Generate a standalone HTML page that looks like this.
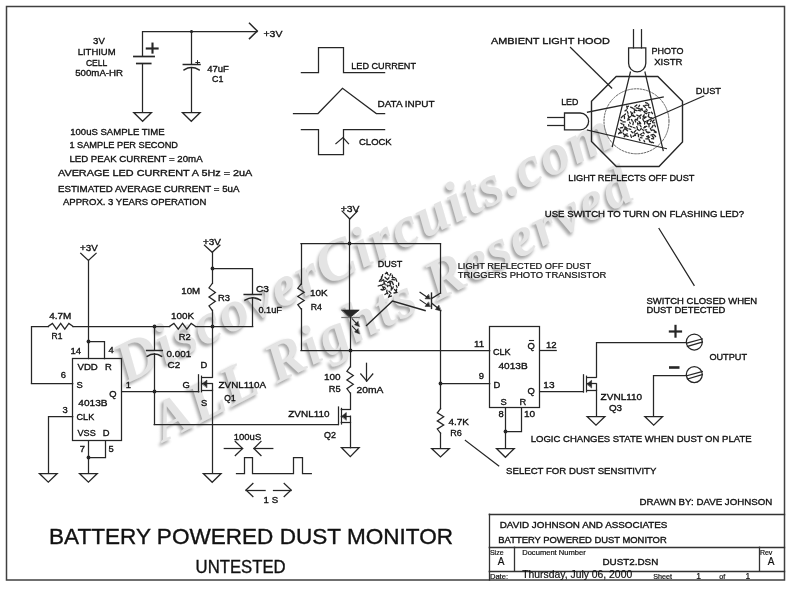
<!DOCTYPE html>
<html><head><meta charset="utf-8"><style>
html,body{margin:0;padding:0;background:#fff;}
svg{display:block;will-change:transform;}
.t{font-family:"Liberation Sans",sans-serif;fill:#111;stroke:#111;stroke-width:0.35;}
.thin{font-family:"Liberation Sans",sans-serif;fill:#111;stroke:#111;stroke-width:0.2;}
.big{font-family:"Liberation Sans",sans-serif;fill:#111;stroke:#111;stroke-width:0.35;}
</style></head><body>
<svg width="792" height="589" viewBox="0 0 792 589">
<rect width="792" height="589" fill="#fff"/>
<defs><filter id="wmb" x="-5%" y="-20%" width="110%" height="140%"><feGaussianBlur stdDeviation="1.6"/></filter></defs><g><g transform="translate(126,384) rotate(-26.0)"><text x="-3" y="1.8" font-family="Liberation Serif" font-weight="bold" font-style="italic" font-size="58" textLength="546" lengthAdjust="spacing" fill="#a6a6a6" stroke="#a6a6a6" stroke-width="0" filter="url(#wmb)">DiscoverCircuits.com</text><text x="0" y="0" font-family="Liberation Serif" font-weight="bold" font-style="italic" font-size="58" textLength="546" lengthAdjust="spacing" fill="#e4e4e4" stroke="#e4e4e4" stroke-width="0">DiscoverCircuits.com</text></g><g transform="translate(164,442) rotate(-27.3)"><text x="-3" y="1.8" font-family="Liberation Serif" font-weight="bold" font-style="italic" font-size="56" textLength="532" lengthAdjust="spacing" fill="#a6a6a6" stroke="#a6a6a6" stroke-width="0" filter="url(#wmb)">ALL Rights Reserved</text><text x="0" y="0" font-family="Liberation Serif" font-weight="bold" font-style="italic" font-size="56" textLength="532" lengthAdjust="spacing" fill="#e4e4e4" stroke="#e4e4e4" stroke-width="0">ALL Rights Reserved</text></g></g>
<g stroke="#262626" stroke-width="1.25" fill="none" stroke-linecap="square">
<rect x="6.5" y="6.5" width="778" height="573.5" fill="none" stroke="#404040" stroke-width="1.5"/>
<polyline points="142.5,56.2 142.5,31.5 257,31.5" fill="none" />
<polyline points="249.5,23.3 257.3,31 249.5,38.6" fill="none" stroke-width="1.5" />
<circle cx="191.5" cy="31.5" r="1.6" fill="#262626" stroke="none"/>
<line x1="133.9" y1="56.5" x2="154.1" y2="56.5" stroke-width="1.7"/>
<line x1="136.8" y1="63.5" x2="150.7" y2="63.5" stroke-width="1.7"/>
<line x1="142.5" y1="63.9" x2="142.5" y2="112.3"/>
<polygon points="133.7,112.5 151.5,112.5 142.6,121.3" fill="none" />
<line x1="146.8" y1="48.5" x2="157.6" y2="48.5" stroke-width="2.1"/>
<line x1="152.5" y1="43.6" x2="152.5" y2="52.6" stroke-width="2.1"/>
<line x1="191.5" y1="31" x2="191.5" y2="64.2"/>
<line x1="183.3" y1="64.5" x2="200" y2="64.5" stroke-width="1.5"/>
<path d="M184.1,69.9 Q191.3,65.3 199.1,69.9" fill="none" stroke-width="1.5" />
<line x1="191.5" y1="67.6" x2="191.5" y2="112.3"/>
<polygon points="182.4,112.5 200.20000000000002,112.5 191.3,121.3" fill="none" />
<line x1="195.8" y1="62.5" x2="199.6" y2="62.5" stroke-width="1"/>
<line x1="197.5" y1="60.6" x2="197.5" y2="64.4" stroke-width="1"/>
<polyline points="301.4,72.5 318.5,72.5 318.5,47.5 343.5,47.5 343.5,72.5 384.6,72.5" fill="none" />
<polyline points="293.5,113.5 318,113.5 342.5,88.3 376.3,113.5 384.6,113.5" fill="none" />
<polyline points="301.4,129.5 318.5,129.5 318.5,154.5 343.5,154.5 343.5,129.5 384.6,129.5" fill="none" />
<polyline points="335.9,143.6 343,137.5 348.5,143.6" fill="none" />
<polyline points="80.7,253.3 88.4,260.4 96.10000000000001,253.3" fill="none" />
<line x1="88.5" y1="260.4" x2="88.5" y2="358.6"/>
<circle cx="88.5" cy="341.5" r="1.9" fill="#262626" stroke="none"/>
<polyline points="88.4,341.5 104.5,341.5 104.5,358.6" fill="none" />
<rect x="72.5" y="358.5" width="49" height="82" fill="none"/>
<polyline points="31.5,383.4 31.5,326.5 48.3,326.5" fill="none" />
<polyline points="48.3,326.3 52.42,323.4 56.53,329.2 60.65,323.4 64.77,329.2 68.88,323.4 73,326.3" fill="none" />
<line x1="73" y1="326.5" x2="169.6" y2="326.5"/>
<circle cx="154.5" cy="326.5" r="1.9" fill="#262626" stroke="none"/>
<polyline points="169.6,326.3 173.92,323.4 178.23,329.2 182.55,323.4 186.87,329.2 191.18,323.4 195.5,326.3" fill="none" />
<line x1="195.5" y1="326.5" x2="252.7" y2="326.5"/>
<circle cx="212.5" cy="326.5" r="1.9" fill="#262626" stroke="none"/>
<line x1="31.5" y1="383.5" x2="72.7" y2="383.5"/>
<polyline points="72.7,416.5 48.5,416.5 48.5,473.1" fill="none" />
<polygon points="39.4,473.5 57.199999999999996,473.5 48.3,482.1" fill="none" />
<line x1="88.5" y1="440.7" x2="88.5" y2="473.1"/>
<polygon points="79.5,473.5 97.30000000000001,473.5 88.4,482.1" fill="none" />
<polyline points="105.5,440.7 105.5,457.5 88.4,457.5" fill="none" />
<circle cx="88.5" cy="457.5" r="1.9" fill="#262626" stroke="none"/>
<line x1="121.6" y1="391.5" x2="198.8" y2="391.5"/>
<circle cx="154.5" cy="391.5" r="1.9" fill="#262626" stroke="none"/>
<line x1="154.5" y1="326.3" x2="154.5" y2="350.3"/>
<line x1="146.6" y1="350.5" x2="162.3" y2="350.5" stroke-width="1.5"/>
<path d="M147.2,356.3 Q154.2,351.6 161.6,356.3" fill="none" stroke-width="1.5" />
<line x1="154.5" y1="353.8" x2="154.5" y2="424.5"/>
<line x1="154.2" y1="424.5" x2="338.4" y2="424.5"/>
<polyline points="204.5,245.2 212.2,252.3 219.89999999999998,245.2" fill="none" />
<line x1="212.5" y1="252.3" x2="212.5" y2="283.5"/>
<circle cx="212.5" cy="268.5" r="1.9" fill="#262626" stroke="none"/>
<polyline points="212.2,283.5 209.0,287.97 215.4,292.43 209.0,296.9 215.4,301.37 209.0,305.83 212.2,310.3" fill="none" />
<line x1="212.5" y1="310.3" x2="212.5" y2="377.2"/>
<polyline points="212.2,268.5 252.5,268.5 252.5,294" fill="none" />
<line x1="244.2" y1="294.5" x2="261.2" y2="294.5" stroke-width="1.5"/>
<path d="M245,300.2 Q252.7,295.4 260.5,300.2" fill="none" stroke-width="1.5" />
<line x1="252.5" y1="297.8" x2="252.5" y2="326.3"/>
<line x1="198.5" y1="374.8" x2="198.5" y2="391.8"/>
<line x1="201.5" y1="376.2" x2="201.5" y2="391.8" stroke-width="1.2"/>
<line x1="201.9" y1="377.5" x2="212.2" y2="377.5"/>
<line x1="201.9" y1="383.5" x2="212.2" y2="383.5"/>
<line x1="201.9" y1="390.5" x2="212.2" y2="390.5"/>
<line x1="212.5" y1="383.7" x2="212.5" y2="390.3"/>
<polygon points="202.5,383.7 206.9,380.09999999999997 206.9,387.3" fill="#262626" stroke-width="0.6" />
<line x1="212.5" y1="390.3" x2="212.5" y2="473.3"/>
<polygon points="203.29999999999998,473.5 221.1,473.5 212.2,482.3" fill="none" />
<line x1="224.3" y1="448.5" x2="242.6" y2="448.5"/>
<polyline points="235.3,441.4 242.6,448.5 235.3,455.6" fill="none" />
<line x1="272.8" y1="448.5" x2="253.9" y2="448.5"/>
<polyline points="261,441.4 253.9,448.5 261,455.6" fill="none" />
<polyline points="236.5,473.5 244.5,473.5 244.5,457.5 252.5,457.5 252.5,473.5 293.5,473.5 293.5,457.5 302.5,457.5 302.5,473.5 311.3,473.5" fill="none" />
<line x1="246" y1="490.5" x2="265.1" y2="490.5"/>
<polyline points="252.9,483.5 246,490 252.9,496.5" fill="none" />
<line x1="273.5" y1="490.5" x2="291.1" y2="490.5"/>
<polyline points="284.2,483.5 291.1,490 284.2,496.5" fill="none" />
<polyline points="342.1,211.1 349.8,219 357.5,211.1" fill="none" />
<line x1="349.5" y1="219" x2="349.5" y2="310.1"/>
<circle cx="349.5" cy="243.5" r="1.9" fill="#262626" stroke="none"/>
<line x1="301" y1="243.5" x2="440.5" y2="243.5"/>
<line x1="301.5" y1="243.9" x2="301.5" y2="284.1"/>
<polyline points="301,284.1 297.8,288.22 304.2,292.33 297.8,296.45 304.2,300.57 297.8,304.68 301,308.8" fill="none" />
<line x1="301.5" y1="308.8" x2="301.5" y2="350.2"/>
<line x1="301" y1="350.5" x2="489.7" y2="350.5"/>
<circle cx="350.5" cy="350.5" r="1.9" fill="#262626" stroke="none"/>
<polygon points="341.9,310.1 359.2,310.1 350.1,317.4" fill="#262626" stroke-width="0.8" />
<line x1="341.9" y1="317.5" x2="359.2" y2="317.5" stroke-width="1.2" stroke="#777"/>
<line x1="350.5" y1="317.4" x2="350.5" y2="366.9"/>
<line x1="352.2" y1="318.8" x2="357.2" y2="324.2" stroke-width="1.1"/>
<polygon points="359.3,326.6 354.6,324.8 357.8,321.6" fill="#262626" stroke-width="0.5" />
<line x1="352.2" y1="326.0" x2="357.2" y2="331.4" stroke-width="1.1"/>
<polygon points="359.3,333.8 354.6,332.0 357.8,328.8" fill="#262626" stroke-width="0.5" />
<polyline points="366.5,325.4 392.5,301.1 425.1,310.6" fill="none" stroke-width="1.4" />
<line x1="431.5" y1="293.1" x2="431.5" y2="308.4" stroke-width="1.4"/>
<line x1="440.5" y1="243.9" x2="440.5" y2="293"/>
<polyline points="431.9,298.3 440.5,293" fill="none" />
<polyline points="431.9,303.3 439,309" fill="none" />
<polygon points="440.9,310.9 435.4,309.5 438.6,305.4" fill="#262626" stroke-width="0.5" />
<line x1="440.5" y1="310.6" x2="440.5" y2="408.7"/>
<line x1="420" y1="292.3" x2="427.5" y2="297.5" stroke-width="1.1"/>
<polygon points="430.2,299 425.0,298.8 428.3,294.6" fill="#262626" stroke-width="0.5" />
<line x1="420" y1="299.90000000000003" x2="427.5" y2="305.1" stroke-width="1.1"/>
<polygon points="430.2,306.6 425.0,306.40000000000003 428.3,302.20000000000005" fill="#262626" stroke-width="0.5" />
<circle cx="440.5" cy="383.5" r="1.9" fill="#262626" stroke="none"/>
<line x1="440.5" y1="383.5" x2="489.7" y2="383.5"/>
<polyline points="440.5,408.7 437.3,412.77 443.7,416.83 437.3,420.9 443.7,424.97 437.3,429.03 440.5,433.1" fill="none" />
<line x1="440.5" y1="433.1" x2="440.5" y2="448"/>
<polygon points="431.6,448.5 449.4,448.5 440.5,457" fill="none" />
<polyline points="350.1,366.9 346.9,371.25 353.3,375.6 346.9,379.95 353.3,384.3 346.9,388.65 350.1,393" fill="none" />
<line x1="350.5" y1="393" x2="350.5" y2="409.4"/>
<line x1="366.5" y1="363.3" x2="366.5" y2="381.1"/>
<polyline points="360.8,374 366.8,381.1 372.8,374" fill="none" />
<line x1="338.5" y1="407.0" x2="338.5" y2="424.5"/>
<line x1="341.5" y1="408.4" x2="341.5" y2="424.0" stroke-width="1.2"/>
<line x1="341.3" y1="409.5" x2="350.3" y2="409.5"/>
<line x1="341.3" y1="416.5" x2="350.3" y2="416.5"/>
<line x1="341.3" y1="422.5" x2="350.3" y2="422.5"/>
<line x1="350.5" y1="416.2" x2="350.5" y2="422.5"/>
<polygon points="341.90000000000003,416.2 346.3,412.59999999999997 346.3,419.8" fill="#262626" stroke-width="0.6" />
<line x1="350.5" y1="422.5" x2="350.5" y2="447.7"/>
<polygon points="341.40000000000003,447.5 359.2,447.5 350.3,456.7" fill="none" />
<rect x="489.5" y="326.5" width="50" height="81" fill="none"/>
<line x1="539.6" y1="350.5" x2="556.2" y2="350.5"/>
<line x1="539.6" y1="391.5" x2="583.4" y2="391.5"/>
<line x1="505.5" y1="408.1" x2="505.5" y2="448.3"/>
<polyline points="521.5,408.1 521.5,431.5 505.4,431.5" fill="none" />
<circle cx="505.5" cy="431.5" r="1.9" fill="#262626" stroke="none"/>
<polygon points="496.5,448.5 514.3,448.5 505.4,457.3" fill="none" />
<line x1="583.5" y1="374.8" x2="583.5" y2="392"/>
<line x1="586.5" y1="376.2" x2="586.5" y2="391.8" stroke-width="1.2"/>
<line x1="586.6" y1="377.5" x2="596" y2="377.5"/>
<line x1="586.6" y1="383.5" x2="596" y2="383.5"/>
<line x1="586.6" y1="390.5" x2="596" y2="390.5"/>
<line x1="596.5" y1="383.9" x2="596.5" y2="390.3"/>
<polygon points="587.2,383.9 591.6,380.29999999999995 591.6,387.5" fill="#262626" stroke-width="0.6" />
<polyline points="596.5,377.2 596.5,342.5 686.2,342.5" fill="none" />
<line x1="596.5" y1="390.3" x2="596.5" y2="416.1"/>
<polygon points="587.1,416.5 604.9,416.5 596,425.1" fill="none" />
<polyline points="686.2,375.5 653.5,375.5 653.5,416.1" fill="none" />
<polygon points="644.8000000000001,416.5 662.6,416.5 653.7,425.1" fill="none" />
<circle cx="694.3" cy="342" r="8" fill="white"/>
<line x1="686.6" y1="343.2" x2="702.3" y2="338.9" stroke-width="1.2"/>
<line x1="687.4" y1="346.4" x2="702.4" y2="342" stroke-width="1.2"/>
<circle cx="694.3" cy="374.6" r="8" fill="white"/>
<line x1="686.6" y1="375.8" x2="702.3" y2="371.5" stroke-width="1.2"/>
<line x1="687.4" y1="379.0" x2="702.4" y2="374.6" stroke-width="1.2"/>
<line x1="669.9" y1="331.5" x2="681.0" y2="331.5" stroke-width="2.2"/>
<line x1="675.5" y1="325.9" x2="675.5" y2="336.6" stroke-width="2.2"/>
<line x1="670.3" y1="367.5" x2="678.2" y2="367.5" stroke-width="2.6"/>
<line x1="659" y1="228.5" x2="694.1" y2="285.3"/>
<line x1="465.4" y1="440.5" x2="498.7" y2="465.9"/>
<line x1="570.5" y1="47.4" x2="611.7" y2="88.1"/>
<polygon points="616.2,76.5 657.8,76.5 682.5,101.3 682.5,142 659,166.5 616.4,166.5 591.5,141.5 591.5,101.3" fill="none" stroke-width="1.4" />
<circle cx="636.5" cy="121.3" r="32.5" fill="none" stroke="#555" stroke-width="0.9" stroke-dasharray="1.6,1.6"/>
<line x1="633.5" y1="29.7" x2="633.5" y2="47.9"/>
<line x1="641.5" y1="29.7" x2="641.5" y2="47.9"/>
<path d="M628.6,47.9 L645.8,47.9 L645.8,63.3 A8.6,8.6 0 0 1 628.6,63.3 Z" fill="none" stroke-width="1.3" />
<line x1="547.7" y1="117.5" x2="564.2" y2="117.5"/>
<line x1="547.7" y1="125.5" x2="564.2" y2="125.5"/>
<path d="M564.5,113 L580.2,113 A8.4,8.4 0 0 1 580.2,129.8 L564.5,129.8 Z" fill="none" stroke-width="1.3" />
<line x1="587.5" y1="112.2" x2="663.2" y2="97.1"/>
<line x1="587.5" y1="130" x2="666.3" y2="148.6"/>
<line x1="630.4" y1="72.1" x2="612.3" y2="146.6"/>
<line x1="645" y1="72.1" x2="663.2" y2="150.6"/>
<line x1="703.7" y1="96" x2="645" y2="121.8"/>
<g stroke="#333" stroke-width="1.3">
<line x1="489.3" y1="514.5" x2="784.5" y2="514.5"/>
<line x1="489.5" y1="514.3" x2="489.5" y2="580"/>
<line x1="489.3" y1="547.5" x2="784.5" y2="547.5"/>
<line x1="489.3" y1="571.5" x2="784.5" y2="571.5"/>
<line x1="514.5" y1="547.3" x2="514.5" y2="571.2"/>
<line x1="759.5" y1="547.3" x2="759.5" y2="571.2"/>
</g>
<line x1="529.5" y1="340.5" x2="533.5" y2="340.5" stroke-width="1.1"/>
<path d="M382.7,274.6l-0.6,2.3M387.4,272.8l-2.0,0.9M386.4,272.3l1.7,2.4M390.8,273.7l-1.0,2.1M381.4,276.8l0.3,2.2M385.0,277.3l1.9,1.8M389.0,277.8l-1.5,1.7M392.2,275.2l0.7,2.8M392.0,277.4l2.7,0.3M380.8,279.1l-1.5,2.2M383.6,279.8l-2.7,1.5M383.7,280.9l2.7,0.5M389.5,281.4l-1.9,1.2M389.7,281.1l2.4,0.2M392.0,279.4l2.8,0.5M395.8,278.6l1.0,2.8M383.5,284.0l-2.5,1.6M383.9,282.1l1.3,2.7M388.5,282.2l1.8,1.1M390.8,282.6l-0.6,2.1M392.4,282.3l1.0,2.4M398.7,282.9l-0.1,2.7M380.9,285.1l-2.7,0.9M382.7,286.5l0.8,2.2M383.1,287.0l1.9,0.4M386.9,285.0l0.9,1.6M388.8,285.5l2.2,0.7M393.3,286.9l-0.7,1.9M396.3,285.5l0.8,1.8M381.0,289.5l1.9,0.5M385.6,288.7l-1.7,1.0M386.9,290.1l-0.2,2.0M391.5,287.0l-0.3,3.2M394.5,289.5l1.6,1.7M396.6,289.2l-0.3,2.9M387.3,293.0l-2.4,1.5M387.0,292.1l0.8,1.7M389.0,291.3l1.9,2.0M397.1,292.4l-3.1,0.6M389.8,294.6l-1.3,2.6M391.5,296.0l-2.8,0.8" fill="none" stroke-width="1.3" stroke-linecap="round"/>
<path d="M645.6,102.6l2.0,0.7M628.5,106.1l-1.4,0.8M636.8,105.0l-1.9,1.6M639.6,105.2l-0.8,1.4M643.4,105.8l2.0,1.6M647.4,105.2l-2.4,0.1M648.7,104.2l-0.1,1.8M626.7,106.1l0.6,2.4M630.6,107.1l2.2,1.1M633.4,108.8l1.4,0.4M636.3,107.9l2.5,0.6M639.4,108.9l2.3,0.6M642.0,108.5l0.3,1.8M646.1,109.0l1.0,1.2M648.9,107.4l1.5,0.5M626.6,109.9l-1.6,1.0M627.3,111.5l0.7,1.9M630.7,111.8l1.1,2.1M634.2,111.0l0.5,1.7M634.7,110.2l2.2,0.5M638.3,110.3l2.3,0.6M643.8,111.3l1.1,1.3M645.0,110.9l1.7,0.9M649.9,112.7l-2.0,0.2M651.5,112.1l1.0,1.5M625.5,114.0l-1.6,1.5M628.0,114.9l0.6,1.7M632.9,112.8l-1.4,1.7M633.6,115.2l-2.0,0.7M636.8,115.1l1.8,0.9M641.2,114.9l-2.0,1.4M644.2,114.8l-1.2,1.9M644.8,113.0l1.7,0.7M648.7,114.5l-0.4,2.1M622.9,116.0l-1.8,1.9M624.4,116.3l0.1,2.2M628.7,117.4l-0.6,1.3M630.4,116.5l-1.2,1.3M633.3,116.2l1.7,0.3M638.0,117.6l-0.9,1.5M640.1,116.9l0.2,1.5M645.7,116.9l-2.5,0.2M646.2,117.0l-2.2,1.4M648.4,116.4l2.0,1.6M651.0,117.6l1.8,0.9M620.4,120.0l1.6,0.8M622.9,121.9l2.3,0.0M629.7,119.6l-2.2,0.5M631.6,119.5l0.7,1.7M634.9,120.3l0.8,1.7M635.3,119.3l2.3,0.8M639.0,121.5l1.2,1.2M642.8,118.9l1.0,2.3M648.0,120.7l-1.0,2.3M651.3,120.5l-0.9,1.1M654.1,120.0l-1.5,1.5M620.9,123.3l1.4,0.8M623.7,124.4l0.0,1.7M628.7,124.7l0.2,1.5M629.6,122.2l0.7,1.3M633.4,122.2l-0.5,2.4M637.5,122.8l0.5,2.0M639.0,123.4l1.7,0.3M644.6,121.9l-0.0,2.2M646.9,122.6l1.1,1.3M650.5,123.7l-2.4,0.3M652.6,122.6l2.2,0.2M622.6,127.5l-2.2,0.4M624.8,126.9l0.3,2.0M625.4,127.1l1.9,1.7M630.4,126.3l1.6,0.7M633.6,127.5l1.4,0.5M636.8,126.6l0.6,1.6M639.9,125.0l1.1,1.6M645.5,127.2l-1.8,0.7M646.8,126.3l-2.2,0.3M649.0,124.7l0.0,2.2M653.1,125.4l-1.3,2.2M654.6,125.0l0.9,1.7M618.3,128.8l1.8,1.5M620.8,130.8l0.0,1.6M624.4,129.0l-1.3,2.2M625.6,129.2l2.0,1.6M628.9,128.9l1.8,0.4M635.9,130.4l-1.7,1.9M637.2,129.1l2.1,1.4M641.3,128.2l-0.9,1.6M642.3,129.5l1.2,0.7M646.6,129.8l-1.5,0.2M650.4,128.4l1.0,2.1M652.6,130.0l1.9,0.3M654.7,131.0l1.5,1.0M620.3,131.9l-1.7,1.8M622.0,132.7l-2.1,0.3M623.4,133.3l0.9,1.5M627.3,133.9l-2.1,0.6M631.3,131.4l1.5,1.3M634.9,133.9l0.6,1.6M637.6,133.2l-1.6,0.4M642.0,133.5l-2.0,1.2M643.1,132.2l1.0,1.5M646.3,131.6l1.9,1.3M647.8,132.1l2.1,0.2M653.4,134.3l-2.4,0.9M654.2,132.0l1.9,0.6M625.3,135.6l-1.1,1.2M625.9,135.3l2.2,1.1M630.6,134.9l0.8,2.5M634.8,135.2l-1.8,1.2M638.3,134.3l0.2,2.4M640.3,137.6l1.7,0.2M643.3,135.6l-2.1,0.2M648.5,135.8l-1.8,0.8M649.6,137.2l-1.5,0.3M652.3,136.3l1.4,1.2M654.1,135.0l1.5,1.5M639.2,139.0l0.8,1.7M644.0,140.4l0.7,1.5M645.8,138.8l2.5,0.0M649.0,139.4l0.7,2.4M651.6,138.7l2.1,0.1M649.8,141.3l1.5,1.2M652.0,142.2l1.6,0.6" fill="none" stroke-width="1.3" stroke-linecap="round"/>
</g>
<g>
<text class="t" x="263.5" y="37" font-size="9.9" textLength="18.9" lengthAdjust="spacingAndGlyphs">+3V</text>
<text class="t" x="93.1" y="44" font-size="9.9" textLength="11.7" lengthAdjust="spacingAndGlyphs">3V</text>
<text class="t" x="77.7" y="54.7" font-size="9.9" textLength="37.9" lengthAdjust="spacingAndGlyphs">LITHIUM</text>
<text class="t" x="85.9" y="65.7" font-size="9.9" textLength="21.4" lengthAdjust="spacingAndGlyphs">CELL</text>
<text class="t" x="75.2" y="76.2" font-size="9.9" textLength="47.9" lengthAdjust="spacingAndGlyphs">500mA-HR</text>
<text class="t" x="207.2" y="72.3" font-size="9.4" textLength="21.6" lengthAdjust="spacingAndGlyphs">47uF</text>
<text class="t" x="212.1" y="82.2" font-size="9.4" textLength="11.4" lengthAdjust="spacingAndGlyphs">C1</text>
<text class="t" x="70.2" y="134.7" font-size="9.9" textLength="94.4" lengthAdjust="spacingAndGlyphs">100uS SAMPLE TIME</text>
<text class="t" x="69.4" y="147.9" font-size="9.9" textLength="108.6" lengthAdjust="spacingAndGlyphs">1 SAMPLE PER SECOND</text>
<text class="t" x="69.4" y="161.8" font-size="9.9" textLength="133.2" lengthAdjust="spacingAndGlyphs">LED PEAK CURRENT = 20mA</text>
<text class="t" x="58" y="176.4" font-size="9.9" textLength="194.3" lengthAdjust="spacingAndGlyphs">AVERAGE LED CURRENT A 5Hz = 2uA</text>
<text class="t" x="58" y="192" font-size="9.9" textLength="181.4" lengthAdjust="spacingAndGlyphs">ESTIMATED AVERAGE CURRENT = 5uA</text>
<text class="t" x="63" y="204.7" font-size="9.9" textLength="143.3" lengthAdjust="spacingAndGlyphs">APPROX. 3 YEARS OPERATION</text>
<text class="t" x="351.3" y="69.2" font-size="9.9" textLength="64.7" lengthAdjust="spacingAndGlyphs">LED CURRENT</text>
<text class="t" x="377.5" y="106.6" font-size="9.9" textLength="57.0" lengthAdjust="spacingAndGlyphs">DATA INPUT</text>
<text class="t" x="359" y="145.3" font-size="9.9" textLength="32.7" lengthAdjust="spacingAndGlyphs">CLOCK</text>
<text class="t" x="491" y="44.2" font-size="9.9" textLength="118.9" lengthAdjust="spacingAndGlyphs">AMBIENT LIGHT HOOD</text>
<text class="t" x="651.6" y="53.9" font-size="9.9" textLength="31.8" lengthAdjust="spacingAndGlyphs">PHOTO</text>
<text class="t" x="654.2" y="65.1" font-size="9.9" textLength="28.3" lengthAdjust="spacingAndGlyphs">XISTR</text>
<text class="t" x="695.8" y="94.2" font-size="9.9" textLength="25.2" lengthAdjust="spacingAndGlyphs">DUST</text>
<text class="t" x="561.2" y="105.2" font-size="9.9" textLength="17.2" lengthAdjust="spacingAndGlyphs">LED</text>
<text class="t" x="568.3" y="180.9" font-size="9.9" textLength="126.2" lengthAdjust="spacingAndGlyphs">LIGHT REFLECTS OFF DUST</text>
<text class="t" x="80.1" y="250.9" font-size="9.4" textLength="17.7" lengthAdjust="spacingAndGlyphs">+3V</text>
<text class="t" x="49.2" y="319.3" font-size="9.4" textLength="22.1" lengthAdjust="spacingAndGlyphs">4.7M</text>
<text class="t" x="51.5" y="338.6" font-size="9.4" textLength="10.9" lengthAdjust="spacingAndGlyphs">R1</text>
<text class="t" x="70.4" y="353.8" font-size="9.4" textLength="10.6" lengthAdjust="spacingAndGlyphs">14</text>
<text class="t" x="108.4" y="353.4" font-size="9.4">4</text>
<text class="t" x="77.5" y="370.1" font-size="9.4" textLength="20.3" lengthAdjust="spacingAndGlyphs">VDD</text>
<text class="t" x="104.9" y="370.1" font-size="9.4">R</text>
<text class="t" x="60.7" y="377.7" font-size="9.4">6</text>
<text class="t" x="76.6" y="387.8" font-size="9.4">S</text>
<text class="t" x="125.7" y="387.8" font-size="9.4">1</text>
<text class="t" x="109.3" y="396.6" font-size="9.4">Q</text>
<text class="t" x="78.3" y="406.3" font-size="9.4" textLength="29.2" lengthAdjust="spacingAndGlyphs">4013B</text>
<text class="t" x="62.4" y="412.6" font-size="9.4">3</text>
<text class="t" x="76.6" y="420" font-size="9.4" textLength="17.6" lengthAdjust="spacingAndGlyphs">CLK</text>
<text class="t" x="77.5" y="435.6" font-size="9.4" textLength="18.2" lengthAdjust="spacingAndGlyphs">VSS</text>
<text class="t" x="102.7" y="435.6" font-size="9.4">D</text>
<text class="t" x="79.7" y="451.9" font-size="9.4">7</text>
<text class="t" x="108.4" y="451.9" font-size="9.4">5</text>
<text class="t" x="203" y="244.8" font-size="9.4" textLength="18" lengthAdjust="spacingAndGlyphs">+3V</text>
<text class="t" x="181.3" y="294.4" font-size="9.4" textLength="18.9" lengthAdjust="spacingAndGlyphs">10M</text>
<text class="t" x="218" y="301" font-size="9.4" textLength="12" lengthAdjust="spacingAndGlyphs">R3</text>
<text class="t" x="255.9" y="291.5" font-size="9.4" textLength="12.9" lengthAdjust="spacingAndGlyphs">C3</text>
<text class="t" x="258.4" y="313.3" font-size="9.4" textLength="23.6" lengthAdjust="spacingAndGlyphs">0.1uF</text>
<text class="t" x="171.1" y="318.8" font-size="9.4" textLength="23.0" lengthAdjust="spacingAndGlyphs">100K</text>
<text class="t" x="178.8" y="340.3" font-size="9.4" textLength="12.0" lengthAdjust="spacingAndGlyphs">R2</text>
<text class="t" x="166.5" y="357" font-size="9.4" textLength="24.6" lengthAdjust="spacingAndGlyphs">0.001</text>
<text class="t" x="167.5" y="367.8" font-size="9.4" textLength="12.7" lengthAdjust="spacingAndGlyphs">C2</text>
<text class="t" x="200.6" y="368.3" font-size="9.4">D</text>
<text class="t" x="182.6" y="388.2" font-size="9.4">G</text>
<text class="t" x="201" y="405.6" font-size="9.4">S</text>
<text class="t" x="218.6" y="388" font-size="9.4" textLength="47.4" lengthAdjust="spacingAndGlyphs">ZVNL110A</text>
<text class="t" x="224.3" y="400.9" font-size="9.4" textLength="11.3" lengthAdjust="spacingAndGlyphs">Q1</text>
<text class="t" x="233.8" y="439.6" font-size="9.4" textLength="27.4" lengthAdjust="spacingAndGlyphs">100uS</text>
<text class="t" x="263.6" y="503.3" font-size="9.4" textLength="14.5" lengthAdjust="spacingAndGlyphs">1 S</text>
<text class="t" x="340.7" y="212.2" font-size="9.4" textLength="18.7" lengthAdjust="spacingAndGlyphs">+3V</text>
<text class="t" x="377.7" y="266.9" font-size="9.4" textLength="24.6" lengthAdjust="spacingAndGlyphs">DUST</text>
<text class="t" x="310" y="295.9" font-size="9.4" textLength="17.6" lengthAdjust="spacingAndGlyphs">10K</text>
<text class="t" x="310.7" y="309.8" font-size="9.4" textLength="11.2" lengthAdjust="spacingAndGlyphs">R4</text>
<text class="t" x="324" y="380" font-size="9.4" textLength="16.6" lengthAdjust="spacingAndGlyphs">100</text>
<text class="t" x="328.7" y="391.8" font-size="9.4" textLength="11.9" lengthAdjust="spacingAndGlyphs">R5</text>
<text class="t" x="356.6" y="393" font-size="9.4" textLength="26.8" lengthAdjust="spacingAndGlyphs">20mA</text>
<text class="t" x="288.3" y="416.8" font-size="9.4" textLength="41.2" lengthAdjust="spacingAndGlyphs">ZVNL110</text>
<text class="t" x="324" y="437.6" font-size="9.4" textLength="11.9" lengthAdjust="spacingAndGlyphs">Q2</text>
<text class="t" x="474" y="346.5" font-size="9.4" textLength="10.2" lengthAdjust="spacingAndGlyphs">11</text>
<text class="t" x="493" y="354.7" font-size="9.4" textLength="17.7" lengthAdjust="spacingAndGlyphs">CLK</text>
<text class="t" x="527.6" y="349" font-size="9.4">Q</text>
<text class="t" x="546" y="347.5" font-size="9.4" textLength="10.6" lengthAdjust="spacingAndGlyphs">12</text>
<text class="t" x="498.5" y="369.3" font-size="9.4" textLength="29.1" lengthAdjust="spacingAndGlyphs">4013B</text>
<text class="t" x="478.7" y="378.7" font-size="9.4">9</text>
<text class="t" x="493.4" y="387.9" font-size="9.4">D</text>
<text class="t" x="527.6" y="394.4" font-size="9.4">Q</text>
<text class="t" x="543.3" y="388.3" font-size="9.4" textLength="11.2" lengthAdjust="spacingAndGlyphs">13</text>
<text class="t" x="500.5" y="404.6" font-size="9.4">S</text>
<text class="t" x="519.5" y="404.6" font-size="9.4">R</text>
<text class="t" x="498.5" y="416.8" font-size="9.4">8</text>
<text class="t" x="524" y="416.8" font-size="9.4" textLength="11.2" lengthAdjust="spacingAndGlyphs">10</text>
<text class="t" x="448.5" y="425" font-size="9.4" textLength="20.4" lengthAdjust="spacingAndGlyphs">4.7K</text>
<text class="t" x="450.2" y="436.2" font-size="9.4" textLength="11.6" lengthAdjust="spacingAndGlyphs">R6</text>
<text class="t" x="600.6" y="400.3" font-size="9.4" textLength="41.6" lengthAdjust="spacingAndGlyphs">ZVNL110</text>
<text class="t" x="608.9" y="410.6" font-size="9.4" textLength="13.1" lengthAdjust="spacingAndGlyphs">Q3</text>
<text class="t" x="709.4" y="359.7" font-size="9.4" textLength="37.6" lengthAdjust="spacingAndGlyphs">OUTPUT</text>
<text class="t" x="457.7" y="269.3" font-size="8.32" textLength="133.4" lengthAdjust="spacingAndGlyphs" style="stroke-width:0.2">LIGHT REFLECTED OFF DUST</text>
<text class="t" x="457.7" y="278" font-size="8.32" textLength="148.7" lengthAdjust="spacingAndGlyphs" style="stroke-width:0.2">TRIGGERS PHOTO TRANSISTOR</text>
<text class="t" x="544.8" y="217.3" font-size="9.9" textLength="199.2" lengthAdjust="spacingAndGlyphs">USE SWITCH TO TURN ON FLASHING LED?</text>
<text class="t" x="646.5" y="304.3" font-size="9.4" textLength="110.7" lengthAdjust="spacingAndGlyphs">SWITCH CLOSED WHEN</text>
<text class="t" x="646.5" y="312.5" font-size="9.4" textLength="78.8" lengthAdjust="spacingAndGlyphs">DUST DETECTED</text>
<text class="t" x="530.7" y="441.5" font-size="9.9" textLength="220.9" lengthAdjust="spacingAndGlyphs">LOGIC CHANGES STATE WHEN DUST ON PLATE</text>
<text class="t" x="506.1" y="474.3" font-size="9.9" textLength="150.3" lengthAdjust="spacingAndGlyphs">SELECT FOR DUST SENSITIVITY</text>
<text class="t" x="639.6" y="505.2" font-size="9.9" textLength="132.7" lengthAdjust="spacingAndGlyphs">DRAWN BY: DAVE JOHNSON</text>
<text class="t" x="499.7" y="528" font-size="9.4" textLength="167.7" lengthAdjust="spacingAndGlyphs">DAVID JOHNSON AND ASSOCIATES</text>
<text class="t" x="498.3" y="542.7" font-size="9.4" textLength="168.4" lengthAdjust="spacingAndGlyphs">BATTERY POWERED DUST MONITOR</text>
<text class="thin" x="489.9" y="554.7" font-size="7" textLength="13.7" lengthAdjust="spacingAndGlyphs">Size</text>
<text class="thin" x="501" y="564.5" font-size="10" text-anchor="middle">A</text>
<text class="thin" x="522.2" y="554.7" font-size="7" textLength="63.6" lengthAdjust="spacingAndGlyphs">Document Number</text>
<text class="t" x="602.4" y="564.5" font-size="9.4" textLength="55.9" lengthAdjust="spacingAndGlyphs">DUST2.DSN</text>
<text class="thin" x="489.9" y="578.6" font-size="7" textLength="18.2" lengthAdjust="spacingAndGlyphs">Date:</text>
<text class="thin" x="522.2" y="578.4" font-size="10.5" textLength="110.0" lengthAdjust="spacingAndGlyphs">Thursday, July 06, 2000</text>
<text class="thin" x="653.2" y="578.8" font-size="7" textLength="18.8" lengthAdjust="spacingAndGlyphs">Sheet</text>
<text class="thin" x="696.2" y="578.8" font-size="8.5">1</text>
<text class="thin" x="719.3" y="578.8" font-size="7" textLength="6.0" lengthAdjust="spacingAndGlyphs">of</text>
<text class="thin" x="745.5" y="578.8" font-size="8.5">1</text>
<text class="thin" x="759.9" y="554.5" font-size="7" textLength="12.5" lengthAdjust="spacingAndGlyphs">Rev</text>
<text class="thin" x="771" y="564.6" font-size="10" text-anchor="middle">A</text>
<text class="big" x="49" y="544.2" font-size="22.2" textLength="404.1" lengthAdjust="spacingAndGlyphs">BATTERY POWERED DUST MONITOR</text>
<text class="big" x="195.6" y="572.7" font-size="17.5" textLength="90.0" lengthAdjust="spacingAndGlyphs">UNTESTED</text>
</g>
</svg>
</body></html>
